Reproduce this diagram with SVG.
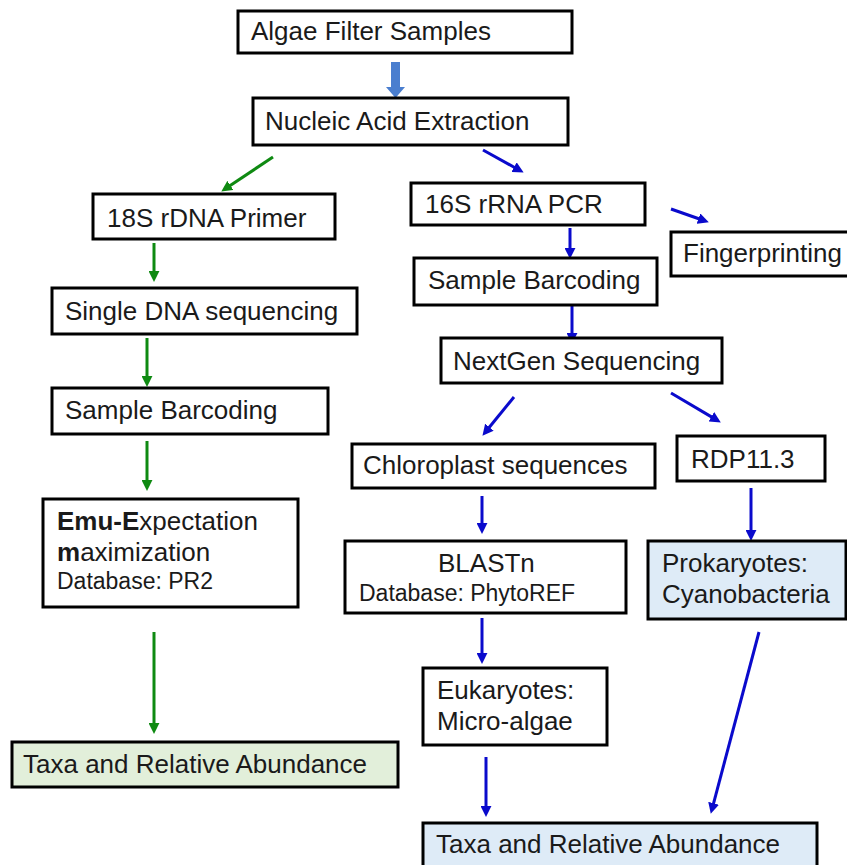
<svg xmlns="http://www.w3.org/2000/svg" width="847" height="865" viewBox="0 0 847 865">
<defs>
<style>
.box{fill:#ffffff;stroke:#000;stroke-width:3}
.gbox{fill:#e2efda;stroke:#000;stroke-width:3}
.bbox{fill:#deebf7;stroke:#000;stroke-width:3}
text{font-family:"Liberation Sans",Arial,sans-serif;font-size:26px;fill:#1a1a1a}
.sm{font-size:23px}
.g{stroke:#0f8a12;stroke-width:3;fill:none;marker-end:url(#ga)}
.b{stroke:#0a0acc;stroke-width:3;fill:none;marker-end:url(#ba)}
</style>
<marker id="ga" viewBox="0 0 10 10" markerWidth="11" markerHeight="11" markerUnits="userSpaceOnUse" refX="1" refY="5" orient="auto"><path d="M0,0 L10,5 L0,10 z" fill="#0f8a12"/></marker>
<marker id="ba" viewBox="0 0 10 10" markerWidth="11" markerHeight="11" markerUnits="userSpaceOnUse" refX="1" refY="5" orient="auto"><path d="M0,0 L10,5 L0,10 z" fill="#0a0acc"/></marker>
</defs>
<rect width="847" height="865" fill="#fff"/>
<g id="connectors">
<polygon points="391,62 400,62 400,87 405,87 395.5,98 386,87 391,87" fill="#4a7ecf"/>
<line class="g" x1="273" y1="157" x2="229.5" y2="186"/>
<line class="b" x1="483" y1="150" x2="515" y2="167.7"/>
<line class="g" x1="154" y1="243" x2="154" y2="272"/>
<line class="g" x1="147" y1="338" x2="147" y2="377"/>
<line class="g" x1="147" y1="441" x2="147" y2="481"/>
<line class="g" x1="154" y1="632" x2="154" y2="724"/>
<line class="b" x1="570" y1="228" x2="570" y2="249"/>
<line class="b" x1="671" y1="209" x2="699.5" y2="219"/>
<line class="b" x1="572" y1="306" x2="572" y2="334"/>
<line class="b" x1="514" y1="397" x2="488.7" y2="428"/>
<line class="b" x1="671" y1="393" x2="712.3" y2="417.4"/>
<line class="b" x1="482" y1="496" x2="482" y2="524"/>
<line class="b" x1="751" y1="488" x2="751" y2="531"/>
<line class="b" x1="482" y1="618" x2="482" y2="654"/>
<line class="b" x1="486" y1="757" x2="486" y2="807"/>
<line class="b" x1="759" y1="632" x2="713.3" y2="804.3"/>
</g>
<g id="algae"><rect class="box" x="238" y="11" width="334" height="42"/><text x="251" y="40">Algae Filter Samples</text></g>
<g id="nucleic"><rect class="box" x="253" y="98" width="315" height="47"/><text x="265" y="130">Nucleic Acid Extraction</text></g>
<g id="p18s"><rect class="box" x="93" y="194" width="242" height="45"/><text x="107" y="227">18S rDNA Primer</text></g>
<g id="single"><rect class="box" x="52" y="288" width="305" height="46"/><text x="65" y="320">Single DNA sequencing</text></g>
<g id="barcodeL"><rect class="box" x="52" y="388" width="276" height="46"/><text x="65" y="419">Sample Barcoding</text></g>
<g id="emu"><rect class="box" x="43" y="499" width="255" height="108"/>
<text x="57" y="530"><tspan font-weight="bold">Emu-E</tspan>xpectation</text>
<text x="57" y="561"><tspan font-weight="bold">m</tspan>aximization</text>
<text class="sm" x="57" y="589">Database: PR2</text></g>
<g id="taxaL"><rect class="gbox" x="12" y="742" width="386" height="45"/><text x="23" y="773">Taxa and Relative Abundance</text></g>
<g id="p16s"><rect class="box" x="411" y="183" width="234" height="42"/><text x="425" y="213">16S rRNA PCR</text></g>
<g id="finger"><rect class="box" x="671" y="232" width="180" height="44"/><text x="683" y="262">Fingerprinting</text></g>
<g id="barcodeR"><rect class="box" x="414" y="258" width="243" height="47"/><text x="428" y="289">Sample Barcoding</text></g>
<g id="nextgen"><rect class="box" x="441" y="338" width="281" height="45"/><text x="453" y="370">NextGen Sequencing</text></g>
<g id="chloro"><rect class="box" x="352" y="444" width="303" height="44"/><text x="363" y="474">Chloroplast sequences</text></g>
<g id="rdp"><rect class="box" x="677" y="436" width="148" height="45"/><text x="691" y="468">RDP11.3</text></g>
<g id="blast"><rect class="box" x="345" y="541" width="281" height="72"/><text x="438" y="572">BLASTn</text><text class="sm" x="359" y="601">Database: PhytoREF</text></g>
<g id="prok"><rect class="bbox" x="648" y="541" width="198" height="78"/><text x="662" y="572">Prokaryotes:</text><text x="662" y="603">Cyanobacteria</text></g>
<g id="euk"><rect class="box" x="423" y="668" width="184" height="77"/><text x="437" y="699">Eukaryotes:</text><text x="437" y="730">Micro-algae</text></g>
<g id="taxaR"><rect class="bbox" x="423" y="823" width="394" height="50"/><text x="436" y="853">Taxa and Relative Abundance</text></g>
</svg>
